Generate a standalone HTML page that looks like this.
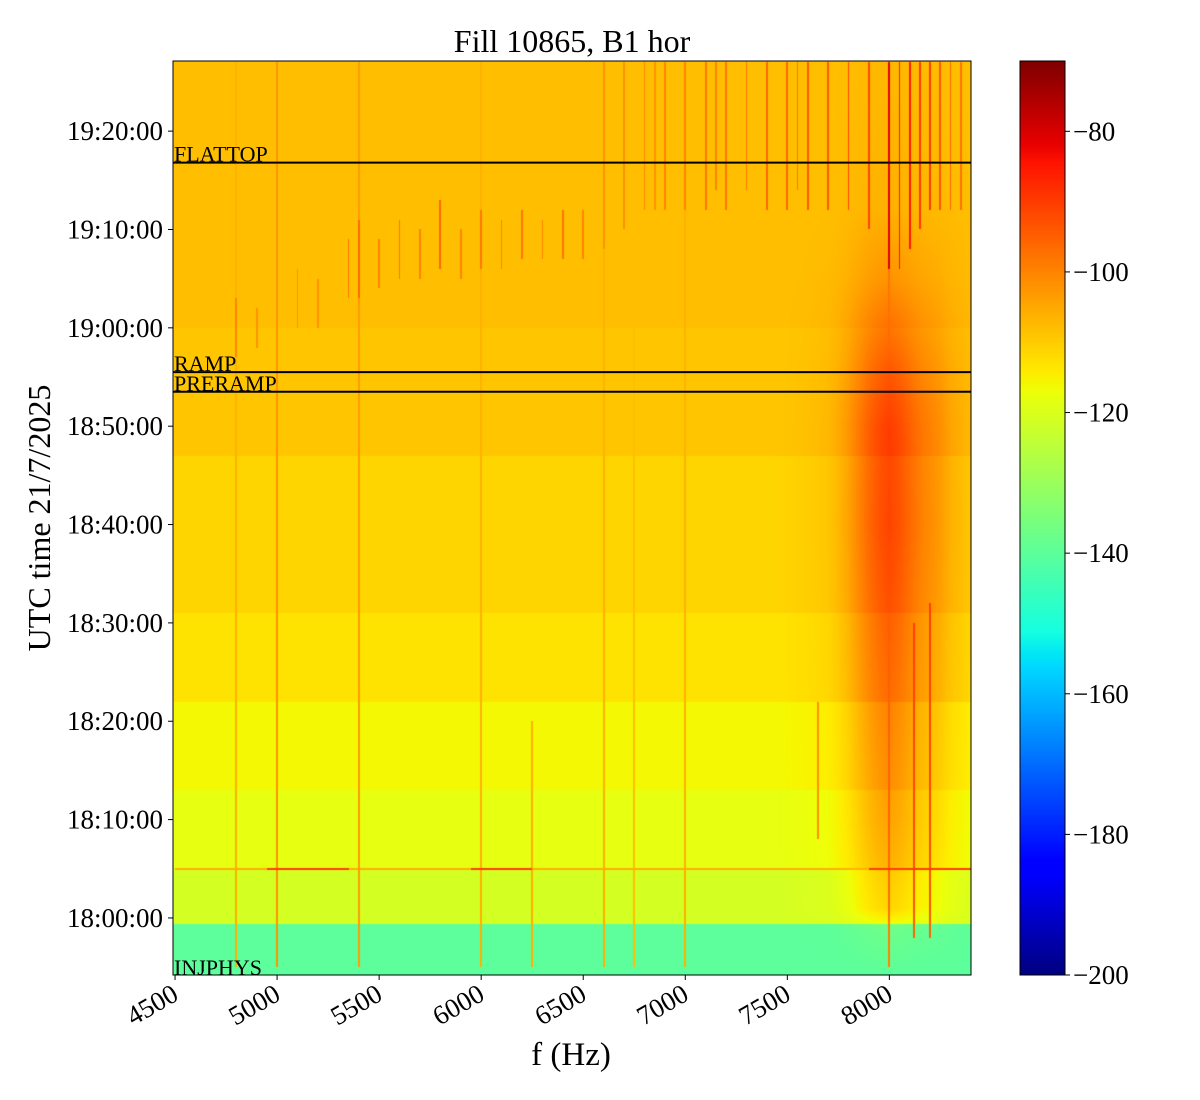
<!DOCTYPE html>
<html><head><meta charset="utf-8">
<style>
body{margin:0;background:#fff;width:1200px;height:1100px;overflow:hidden;position:relative;font-family:"Liberation Serif",serif}
canvas{position:absolute}
svg{position:absolute;left:0;top:0}
</style></head>
<body>
<canvas id="heat" width="798" height="914" style="left:173px;top:61px"></canvas>
<canvas id="cbar" width="45" height="914" style="left:1020px;top:61px"></canvas>
<svg id="ax" width="1200" height="1100"></svg>
<script>
// ---- data ----
const fMin = 4490, fMax = 8400;           // Hz
const tMin = -5.8, tMax = 87.13;          // minutes relative to 18:00:00
const vMin = -200, vMax = -70;            // dB
const bandStart = [-5.8, -0.6, 5, 13, 22, 31, 47, 60];
const bandLevel = [-140, -121, -118, -116, -113, -111, -109, -108];
const hotFreq  = [7450, 7600, 7700, 7750, 7800, 7850, 7900, 7950, 8000, 8050, 8100, 8150, 8200, 8250, 8300, 8400];
const hotBoost = [0, 1, 2, 4, 7, 11, 15, 18, 20, 18, 15, 12, 10, 8, 5, 2];
const hotTimes = [-5.8, -1, 1, 10, 20, 30, 40, 50, 56, 60, 65, 72, 87.13];
const hotScale = [0, 0.15, 0.5, 0.7, 0.8, 0.9, 1.0, 0.95, 0.75, 0.55, 0.3, 0.1, 0.05];
const lineFreq  = [4800,5000,5400,6000,6600,6750,7000,6250,7650,8000,8200,8120,
 4800,4900,5100,5200,5350,5400,5500,5600,5700,5800,5900,6000,6100,6200,6300,6400,6500,6600,6700,6800,6850,6900,7000,7100,7150,7200,7300,7400,7500,7550,7600,7700,7800,7900,8000,8050,8100,8150,8200,8250,8300,8350];
const lineStart = [-5,-5,-5,-5,-5,-5,-5,-5,8,-5,-2,-2,
 57,58,60,60,63,63,64,65,65,66,65,66,66,67,67,67,67,68,70,72,72,72,72,72,74,72,74,72,72,74,72,72,72,70,66,66,68,70,72,72,72,72];
const lineEnd   = [87,87,87,87,87,70,87,20,22,87,32,30,
 63,62,66,65,69,71,69,71,70,73,70,72,71,72,71,72,72,87,87,87,87,87,87,87,87,87,87,87,87,87,87,87,87,87,87,87,87,87,87,87,87,87];
const lineLevel = [-106,-102,-103,-106,-106,-108,-106,-106,-102,-100,-96,-96,
 -100,-102,-102,-102,-98,-96,-100,-98,-100,-96,-100,-98,-100,-98,-100,-98,-100,-102,-102,-100,-102,-100,-100,-98,-100,-98,-98,-96,-96,-98,-94,-94,-92,-92,-82,-86,-86,-90,-90,-94,-96,-98];
const hSegT = [5, 5, 5, 5];
const hSegF0 = [4500, 4950, 5950, 7900];
const hSegF1 = [8400, 5350, 6250, 8400];
const hSegLevel = [-106, -90, -90, -90];
const markerName = ["FLATTOP", "RAMP", "PRERAMP", "INJPHYS"];
const markerT = [76.8, 55.5, 53.5, -5.8];
const yTickLabels = ["18:00:00","18:10:00","18:20:00","18:30:00","18:40:00","18:50:00","19:00:00","19:10:00","19:20:00"];
const yTickVals = [0,10,20,30,40,50,60,70,80];
const xTickVals = [4500,5000,5500,6000,6500,7000,7500,8000];
const cTickVals = [-80,-100,-120,-140,-160,-180,-200];

// ---- scales ----
const X0=173, X1=971, Y0=61, Y1=975;
const xs = f => X0 + (f - fMin) / (fMax - fMin) * (X1 - X0);
const ys = t => Y1 - (t - tMin) / (tMax - tMin) * (Y1 - Y0);
const cy = v => Y1 - (v - vMin) / (vMax - vMin) * (Y1 - Y0);

function interp(xa, ya, x){
  if (x <= xa[0]) return ya[0];
  for (let i=1;i<xa.length;i++) if (x <= xa[i]) { const r=(x-xa[i-1])/(xa[i]-xa[i-1]); return ya[i-1]+r*(ya[i]-ya[i-1]); }
  return ya[ya.length-1];
}
function jet(t){
  t=Math.max(0,Math.min(1,t));
  const r=interp([0,0.35,0.66,0.89,1],[0,0,1,1,0.5],t);
  const g=interp([0,0.125,0.375,0.64,0.91,1],[0,0,1,1,0,0],t);
  const b=interp([0,0.11,0.34,0.65,1],[0.5,1,1,0,0],t);
  return [r*255,g*255,b*255];
}
function baseAt(t){ let v=bandLevel[0]; for(let i=0;i<bandStart.length;i++) if(t>=bandStart[i]) v=bandLevel[i]; return v; }

// ---- heatmap ----
(function(){
  const c=document.getElementById('heat'), ctx=c.getContext('2d');
  const W=c.width, H=c.height, img=ctx.createImageData(W,H), d=img.data;
  const hzPerPx=(fMax-fMin)/W, minPerPx=(tMax-tMin)/H;
  for(let py=0;py<H;py++){
    const t=tMax-(py+0.5)*minPerPx, base=baseAt(t), hs=interp(hotTimes,hotScale,t);
    for(let px=0;px<W;px++){
      const f=fMin+(px+0.5)*hzPerPx;
      let v=base+interp(hotFreq,hotBoost,f)*hs;
      for(let k=0;k<lineFreq.length;k++){
        if(Math.abs(f-lineFreq[k])<hzPerPx*0.9 && t>=lineStart[k] && t<=lineEnd[k]) v=Math.max(v,lineLevel[k]+hs*(lineFreq[k]>7700?6:0));
      }
      for(let k=0;k<hSegT.length;k++){
        if(Math.abs(t-hSegT[k])<minPerPx*0.8 && f>=hSegF0[k] && f<=hSegF1[k]) v=Math.max(v,hSegLevel[k]);
      }
      const col=jet((v-vMin)/(vMax-vMin)), i=(py*W+px)*4;
      d[i]=col[0];d[i+1]=col[1];d[i+2]=col[2];d[i+3]=255;
    }
  }
  ctx.putImageData(img,0,0);
  const cb=document.getElementById('cbar'), cc=cb.getContext('2d');
  for(let py=0;py<cb.height;py++){ const col=jet(1-py/cb.height); cc.fillStyle=`rgb(${col[0]|0},${col[1]|0},${col[2]|0})`; cc.fillRect(0,py,cb.width,1); }
})();

// ---- axes ----
const NS='http://www.w3.org/2000/svg', svg=document.getElementById('ax');
function el(tag,attrs,txt){ const e=document.createElementNS(NS,tag); for(const k in attrs) e.setAttribute(k,attrs[k]); if(txt!==undefined) e.textContent=txt; svg.appendChild(e); return e; }
let e;
e=el('rect',{x:X0,y:Y0,width:X1-X0,height:Y1-Y0,fill:'none',stroke:'#000','stroke-width':1});
 
e=el('rect',{x:1020,y:Y0,width:45,height:Y1-Y0,fill:'none',stroke:'#000','stroke-width':1});
 
markerT.forEach((t,i)=>{
  const y=ys(t);
  if(i<3){ e=el('line',{x1:X0,x2:X1,y1:y,y2:y,stroke:'#000','stroke-width':2});
      }
  e=el('text',{x:X0+1,y:i<3?y-1:y-0,'font-size':22,fill:'#000'},markerName[i]);
   
});
yTickVals.forEach((t,i)=>{
  const y=ys(t);
  e=el('line',{x1:X0-5,x2:X0,y1:y,y2:y,stroke:'#000'});  
  e=el('text',{x:X0-10,y:y+9,'font-size':27,'text-anchor':'end'},yTickLabels[i]);  
});
xTickVals.forEach(f=>{
  const x=xs(f);
  e=el('line',{x1:x,x2:x,y1:Y1,y2:Y1+5,stroke:'#000'});  
  e=el('text',{x:x+5,y:Y1+24,'font-size':27,'text-anchor':'end',transform:`rotate(-30 ${x+5} ${Y1+24})`},String(f));  
});
cTickVals.forEach(v=>{
  const y=cy(v);
  e=el('line',{x1:1065,x2:1070,y1:y,y2:y,stroke:'#000'});  
  e=el('text',{x:1073,y:y+9,'font-size':27},'\u2212'+Math.abs(v));  
});
e=el('text',{x:572,y:52,'font-size':32,'text-anchor':'middle'},'Fill 10865, B1 hor');  
e=el('text',{x:571,y:1065,'font-size':33,'text-anchor':'middle'},'f (Hz)');  
e=el('text',{x:50,y:518,'font-size':32,'text-anchor':'middle',transform:'rotate(-90 50 518)'},'UTC time 21/7/2025');  
</script>
</body></html>
